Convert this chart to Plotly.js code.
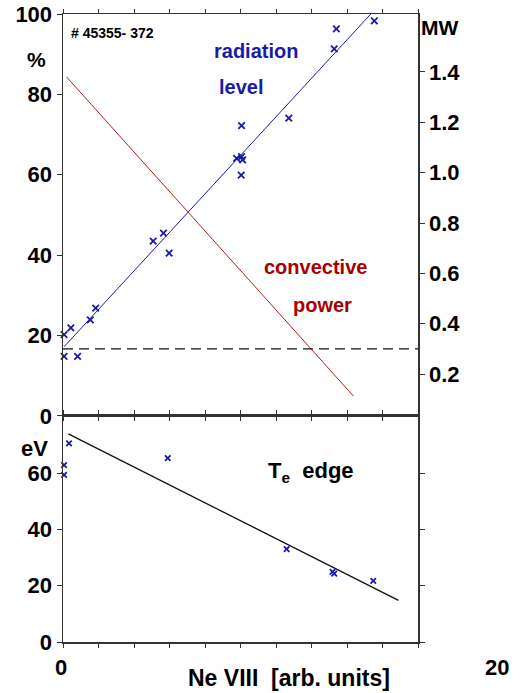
<!DOCTYPE html>
<html>
<head>
<meta charset="utf-8">
<script src="https://cdn.plot.ly/plotly-3.0.1.min.js"></script>
<style>html,body{margin:0;padding:0;background:#fff;}#chart{width:520px;height:693px;}</style>
</head>
<body>
<div id="chart"></div>
<script>
// ---- data ----
// Ne VIII signal, arbitrary units (one tick = 1 unit)
const radX = [0.03, 0.22, 0.03, 0.41, 0.77, 0.92, 2.54, 2.83, 2.99, 5.03, 4.89, 5.03, 5.06, 5.02, 6.36, 7.64, 7.70, 8.77];
// radiation level, %
const radY = [20.2, 21.9, 14.8, 14.8, 23.9, 26.8, 43.5, 45.5, 40.5, 72.2, 64.1, 64.5, 63.7, 59.9, 74.1, 91.3, 96.3, 98.3];
const radFitX = [0.03, 8.67];
const radFitY = [17.2, 100];
// convective power, MW
const convFitX = [0.1, 8.18];
const convFitMW = [1.38, 0.113];
const thresholdMW = 0.3;
// T_e edge, eV
const teX = [0.03, 0.03, 0.17, 2.95, 6.30, 7.59, 7.64, 8.74];
const teY = [62.9, 59.4, 70.6, 65.4, 33.0, 24.9, 24.3, 21.7];
const teFitX = [0.15, 9.45];
const teFitY = [74.0, 14.8];
// ticks
const xTicks = [0,1,2,3,4,5,6,7,8,9,10];
const xRange = [0, 10];
const pctTicks = [0,20,40,60,80,100];
const mwTicks = [0.2,0.4,0.6,0.8,1.0,1.2,1.4];
const evTicks = [0,20,40,60];

const BLUE = '#1a1aa8';
const RED = '#b51d1d';
const DRED = '#a80000';
const AX = '#333333';
const FONT = 'Liberation Sans, Arial, sans-serif';

const traces = [
  {x: radFitX, y: radFitY, xaxis:'x', yaxis:'y', mode:'lines', line:{color:BLUE, width:1}},
  {x: radX, y: radY, xaxis:'x', yaxis:'y', mode:'markers', cliponaxis:false,
   marker:{symbol:'x-thin', size:6.5, line:{color:BLUE, width:1.8}, color:BLUE}},
  {x: convFitX, y: convFitMW, xaxis:'x', yaxis:'y3', mode:'lines', line:{color:RED, width:1}},
  {x: xRange, y: [thresholdMW, thresholdMW], xaxis:'x', yaxis:'y3', mode:'lines', line:{color:'#111', width:1.3, dash:'10px,6px'}},
  {x: teFitX, y: teFitY, xaxis:'x2', yaxis:'y2', mode:'lines', line:{color:'#111', width:1.3}},
  {x: teX, y: teY, xaxis:'x2', yaxis:'y2', mode:'markers', cliponaxis:false,
   marker:{symbol:'x-thin', size:5.5, line:{color:BLUE, width:1.8}, color:BLUE}}
];

const tickFont = {family: FONT, size: 22, color:'#000', weight: 'bold'};
const commonX = {range:xRange, tickvals:xTicks, showgrid:false, zeroline:false, showline:true, showticklabels:false,
  linecolor:AX, linewidth:1.5, ticks:'outside', ticklen:4, tickcolor:AX, mirror:'ticks'};

function ann(text, px, py, size, color) {
  // px, py: pixel position of the text centre on the 520x693 page
  return {text:text, xref:'paper', yref:'paper', x:(px-63)/355, y:(642-py)/628,
    xanchor:'center', yanchor:'middle', showarrow:false,
    font:{family:FONT, size:size, color:color || '#000', weight:'bold'}};
}

const layout = {
  width:520, height:693,
  margin:{l:63, r:102, t:14, b:51},
  paper_bgcolor:'#fff', plot_bgcolor:'#fff',
  showlegend:false,
  font:{family:FONT},
  xaxis: Object.assign({}, commonX, {anchor:'y'}),
  yaxis: {domain:[0.36,1], anchor:'x', range:[0,100], tickvals:pctTicks, showgrid:false, zeroline:false,
    showline:true, linecolor:AX, linewidth:1.5, ticks:'outside', ticklen:5, tickcolor:AX, tickfont:tickFont},
  yaxis3: {overlaying:'y', side:'right', anchor:'x', range:[0.034,1.63], tickvals:mwTicks, tickformat:'.1f',
    showgrid:false, zeroline:false, showline:true, linecolor:AX, linewidth:1.5, ticks:'outside', ticklen:5,
    tickcolor:AX, tickfont:tickFont},
  xaxis2: Object.assign({}, commonX, {anchor:'y2'}),
  yaxis2: {domain:[0,0.36], anchor:'x2', range:[0,80.4], tickvals:evTicks, showgrid:false, zeroline:false,
    showline:true, linecolor:AX, linewidth:1.5, ticks:'outside', ticklen:5, tickcolor:AX, mirror:'ticks', tickfont:tickFont},
  annotations: [
    ann('%', 36, 59, 21),
    ann('MW', 439, 28, 21),
    ann('eV', 34, 448, 22),
    ann('# 45355- 372', 112, 33, 14),
    ann('radiation', 256, 51, 20, BLUE),
    ann('level', 241, 87, 20, BLUE),
    ann('convective', 315, 267, 20, DRED),
    ann('power', 322, 305, 20, DRED),
    ann('T<sub>e</sub>  edge', 311, 472, 22),
    ann('Ne VIII  [arb. units]', 289, 678, 23),
    ann('0', 61, 667, 22),
    ann('20', 497, 667, 22)
  ]
};

Plotly.newPlot('chart', traces, layout, {staticPlot:true, displayModeBar:false});
</script>
</body>
</html>
